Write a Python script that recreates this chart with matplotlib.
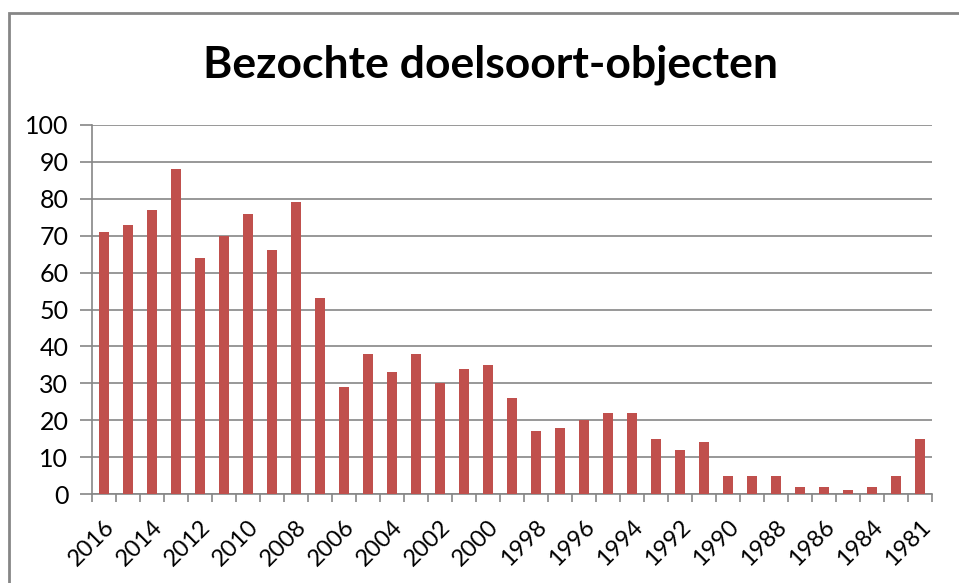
import matplotlib
matplotlib.use("Agg")
import matplotlib.pyplot as plt
import matplotlib.transforms as mtrans
from matplotlib.patches import Rectangle
import numpy as np

# jaren (2016 -> 1983, daarna 1981)
jaren = [str(j) for j in range(2016, 1982, -1)] + ["1981"]
aantallen = [71, 73, 77, 88, 64, 70, 76, 66, 79, 53,
             29, 38, 33, 38, 30, 34, 35, 26, 17, 18,
             20, 22, 22, 15, 12, 14, 5, 5, 5, 2,
             2, 1, 2, 5, 15]
y_ticks = [0, 10, 20, 30, 40, 50, 60, 70, 80, 90, 100]

plt.rcParams['font.family'] = ['Lato', 'DejaVu Sans']

W, H = 959, 583
fig = plt.figure(figsize=(W / 100, H / 100), dpi=100)

# grijze rand om het diagram (loopt door buiten beeld rechts/onder)
fig.patches.append(Rectangle((9 / W, -0.1), 2.0, 1.1 - 13 / H,
                             transform=fig.transFigure, fill=False,
                             edgecolor='#868686', linewidth=2))

ax = fig.add_axes([92 / W, 1 - 494 / H, (932 - 92) / W, (494 - 125) / H])

x = np.arange(len(jaren))
ax.bar(x, aantallen, width=0.42, color='#C0504D', zorder=3)

ax.set_xlim(-0.5, len(jaren) - 0.5)
ax.set_ylim(0, 100)
ax.set_yticks(y_ticks)
ax.yaxis.grid(True, color='#868686', linewidth=1.2, zorder=0)

ax.set_xticks(x[::2])
ax.set_xticklabels(jaren[::2], rotation=45, ha='right', rotation_mode='anchor')
ax.set_xticks(np.arange(len(jaren) + 1) - 0.5, minor=True)

# labels iets naar rechts, zoals in Excel
verschuif = mtrans.ScaledTranslation(4 / 72, 0, fig.dpi_scale_trans)
for lbl in ax.get_xticklabels():
    lbl.set_transform(lbl.get_transform() + verschuif)

ax.tick_params(axis='x', which='major', length=0, labelsize=17, pad=16)
ax.tick_params(axis='x', which='minor', length=6, color='#868686', width=1.2)
ax.tick_params(axis='y', length=9, color='#868686', width=1.2, labelsize=18, pad=8)

for s in ['top', 'right']:
    ax.spines[s].set_visible(False)
for s in ['left', 'bottom']:
    ax.spines[s].set_color('#868686')
    ax.spines[s].set_linewidth(1.2)

fig.text(490 / W, 1 - 65 / H, "Bezochte doelsoort-objecten",
         ha='center', va='center', fontsize=32, fontweight='bold')

fig.savefig("out.png", dpi=100)
